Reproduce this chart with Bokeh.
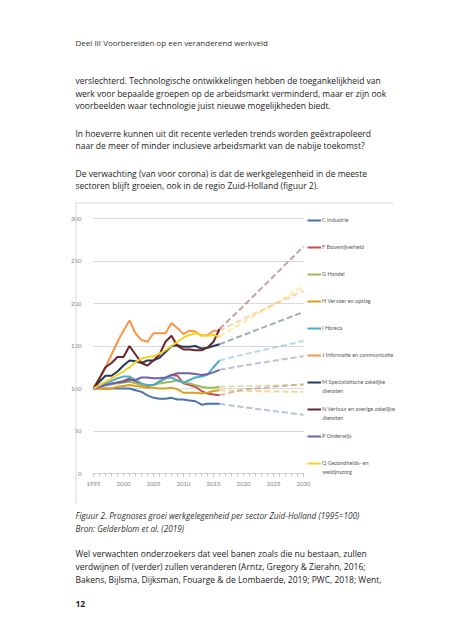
from bokeh.plotting import figure
from bokeh.models import Label, Legend, LegendItem, FixedTicker, BoxAnnotation, Range1d
from bokeh.embed import file_html
from bokeh.resources import INLINE

# ---------------- data ----------------
years = list(range(1995, 2017))
proj_years = [2016, 2020, 2030]

sector_first = ["C Industrie", "F Bouwnijverheid", "G Handel", "H Vervoer en opslag",
                "I Horeca", "J Informatie en communicatie", "M Specialistische zakelijke",
                "N Verhuur en overige zakelijke", "P Onderwijs", "Q Gezondheids- en"]
sector_second = ["", "", "", "", "", "", "diensten", "diensten", "", "welzijnszorg"]

C_ind = [100, 100, 100, 100, 100, 100, 100, 98, 96, 92, 89, 88, 88, 89, 87, 87, 86, 85, 81, 82, 82, 82]
F_bouw = [100, 102, 104, 105, 107, 109, 112, 108, 105, 103, 104, 108, 112, 116, 115, 106, 104, 102, 97, 94, 93, 92]
G_handel = [100, 102, 104, 106, 106, 107, 108, 106, 104, 104, 104, 106, 107, 108, 110, 107, 106, 104, 102, 101, 101, 102]
H_vervoer = [100, 100, 99, 100, 102, 103, 104, 103, 102, 101, 101, 100, 100, 101, 99, 95, 95, 95, 94, 95, 97, 98]
I_horeca = [100, 103, 106, 109, 112, 114, 114, 110, 106, 104, 104, 108, 112, 113, 109, 107, 110, 113, 114, 116, 125, 133]
J_info = [100, 112, 125, 140, 155, 168, 180, 165, 157, 155, 165, 165, 165, 177, 171, 164, 168, 167, 162, 163, 168, 168]
M_spec = [100, 108, 115, 115, 120, 127, 133, 132, 130, 133, 133, 136, 143, 150, 151, 149, 149, 150, 147, 148, 150, 152]
N_verh = [100, 112, 125, 130, 137, 137, 150, 140, 130, 127, 133, 140, 155, 162, 150, 146, 146, 145, 145, 148, 155, 170]
P_ond = [100, 102, 104, 106, 107, 108, 110, 110, 113, 113, 112, 112, 113, 116, 118, 118, 118, 117, 116, 117, 119, 122]
Q_zorg = [100, 104, 108, 112, 116, 120, 125, 131, 135, 137, 138, 141, 145, 150, 155, 160, 163, 165, 163, 162, 163, 161]

C_proj = [82, 78, 69]
F_proj = [92, 99, 105]
G_proj = [102, 103, 104]
H_proj = [98, 97, 96]
I_proj = [133, 140, 156]
J_proj = [168, 182, 215]
M_proj = [152, 163, 190]
N_proj = [170, 197, 267]
P_proj = [122, 127, 138]
Q_proj = [161, 178, 220]

actual = [C_ind, F_bouw, G_handel, H_vervoer, I_horeca, J_info, M_spec, N_verh, P_ond, Q_zorg]
projected = [C_proj, F_proj, G_proj, H_proj, I_proj, J_proj, M_proj, N_proj, P_proj, Q_proj]

x_ticks = [1995, 2000, 2005, 2010, 2015, 2020, 2025, 2030]
y_ticks = [0, 50, 100, 150, 200, 250, 300]

header = "Deel III  Voorbereiden op een veranderend werkveld"
body_top = [
    "verslechterd. Technologische ontwikkelingen hebben de toegankelijkheid van",
    "werk voor bepaalde groepen op de arbeidsmarkt verminderd, maar er zijn ook",
    "voorbeelden waar technologie juist nieuwe mogelijkheden biedt.",
    "In hoeverre kunnen uit dit recente verleden trends worden geëxtrapoleerd",
    "naar de meer of minder inclusieve arbeidsmarkt van de nabije toekomst?",
    "De verwachting (van voor corona) is dat de werkgelegenheid in de meeste",
    "sectoren blijft groeien, ook in de regio Zuid-Holland (figuur 2).",
]
caption = ["Figuur 2. Prognoses groei werkgelegenheid per sector Zuid-Holland (1995=100)",
           "Bron: Gelderblom et al. (2019)"]
body_bottom = [
    "Wel verwachten onderzoekers dat veel banen zoals die nu bestaan, zullen",
    "verdwijnen of (verder) zullen veranderen (Arntz, Gregory & Zierahn, 2016;",
    "Bakens, Bijlsma, Dijksman, Fouarge & de Lombaerde, 2019; PWC, 2018; Went,",
]
page_number = "12"

# ---------------- styling ----------------
colors = ["#4a72ae", "#c0504d", "#9bbb59", "#d9a01c", "#4bacc6",
          "#f79646", "#203a5c", "#6e2527", "#7061a8", "#f7d21e"]

W, H = 445, 632
# where the chart's plot area sits on the canvas (px)
PX0, PX1 = 93, 303      # 1995 .. 2030
PY300, PY0 = 218, 473   # 300 .. 0 (from top)
ppx = (PX1 - PX0) / (x_ticks[-1] - x_ticks[0])
ppy = (PY0 - PY300) / (y_ticks[-1] - y_ticks[0])
x_start = x_ticks[0] - PX0 / ppx
x_end = x_start + W / ppx
y_start = y_ticks[0] - (H - PY0) / ppy
y_end = y_start + H / ppy

p = figure(width=W, height=H, x_range=Range1d(x_start, x_end), y_range=Range1d(y_start, y_end),
           output_backend="svg", toolbar_location=None, min_border=0)
p.outline_line_color = None
p.background_fill_color = "white"
p.border_fill_color = "white"

p.xgrid.grid_line_color = None
yg = p.ygrid[0]
yg.ticker = FixedTicker(ticks=y_ticks)
yg.grid_line_color = "#d9d9d9"
yg.bounds = (y_ticks[0], y_ticks[-1])
try:
    yg.cross_bounds = (x_ticks[0], x_ticks[-1])
except Exception:
    yg.grid_line_color = None
    p.segment(x0=x_ticks[0], x1=x_ticks[-1], y0=y_ticks, y1=y_ticks, line_color="#d9d9d9", line_width=1)

xa = p.xaxis[0]
xa.fixed_location = 0
xa.bounds = (x_ticks[0], x_ticks[-1])
xa.ticker = FixedTicker(ticks=x_ticks, minor_ticks=list(range(x_ticks[0], x_ticks[-1] + 1)))
xa.axis_line_color = "#d0d0d0"
xa.major_tick_line_color = "#c8c8c8"
xa.minor_tick_line_color = "#c8c8c8"
xa.major_tick_in = 0
xa.major_tick_out = 3
xa.minor_tick_in = 0
xa.minor_tick_out = 3
xa.major_label_text_font = "Lato"
xa.major_label_text_font_size = "6px"
xa.major_label_text_color = "#7f7f7f"
xa.major_label_standoff = 5

ya = p.yaxis[0]
ya.fixed_location = x_ticks[0]
ya.bounds = (y_ticks[0], y_ticks[-1])
ya.ticker = FixedTicker(ticks=y_ticks)
ya.axis_line_color = None
ya.major_tick_line_color = None
ya.minor_tick_line_color = None
ya.major_label_text_font = "Lato"
ya.major_label_text_font_size = "6px"
ya.major_label_text_color = "#7f7f7f"
ya.major_label_standoff = 6

items = []
for pvals, col in zip(projected, colors):
    p.line(proj_years, pvals, line_color=col, line_alpha=0.42, line_width=2, line_dash="6 3")
for vals, col, lab in zip(actual, colors, sector_first):
    r = p.line(years, vals, line_color=col, line_width=2)
    items.append(LegendItem(label=lab, renderers=[r]))


def sx(page_x):
    return page_x


def sy(page_y):
    return H - page_y


leg_first_y = 220
leg_pitch = 27
legend = Legend(items=items, location=(sx(307), sy(leg_first_y - 5 + 9 * leg_pitch + 10)),
                orientation="vertical",
                glyph_width=14, glyph_height=10, label_height=10, spacing=leg_pitch - 10,
                padding=0, margin=0, border_line_color=None, background_fill_alpha=0,
                label_text_font="Lato", label_text_font_size="5.5px",
                label_text_color="#595959", label_standoff=1)
p.add_layout(legend)

# second lines of legend entries
for i, t in enumerate(sector_second):
    if t:
        p.add_layout(Label(x=sx(322), y=sy(leg_first_y + i * leg_pitch + 8), x_units="screen", y_units="screen",
                           text=t, text_font="Lato", text_font_size="5.5px", text_color="#595959",
                           text_baseline="middle"))

# chart box border (top and left edges)
p.add_layout(BoxAnnotation(left=sx(75), right=sx(393), top=sy(202), bottom=sy(203),
                           left_units="screen", right_units="screen", top_units="screen", bottom_units="screen",
                           fill_color="#d9d9d9", fill_alpha=1, line_color=None))
p.add_layout(BoxAnnotation(left=sx(75), right=sx(76), top=sy(202), bottom=sy(503),
                           left_units="screen", right_units="screen", top_units="screen", bottom_units="screen",
                           fill_color="#d9d9d9", fill_alpha=1, line_color=None))


def page_text(text, px, py, size, color="#222222", style="normal", font="Open Sans"):
    p.add_layout(Label(x=sx(px), y=sy(py), x_units="screen", y_units="screen", text=text,
                       text_font=font, text_font_size=f"{size}px", text_color=color,
                       text_font_style=style, text_baseline="middle", text_align="left"))


page_text(header, 75, 42, 8, color="#333333")
top_y = [80, 92.7, 105.3, 132.7, 145.3, 172.7, 185.3]
for t, yy in zip(body_top, top_y):
    page_text(t, 75, yy, 8.5)
for t, yy in zip(caption, [515, 528]):
    page_text(t, 75, yy, 8.2, color="#333333", style="italic")
for t, yy in zip(body_bottom, [553, 566, 579]):
    page_text(t, 75, yy, 8.5)
page_text(page_number, 75, 603, 8.5, color="#222222", style="bold")

open("out.html", "w").write(file_html(p, INLINE))
